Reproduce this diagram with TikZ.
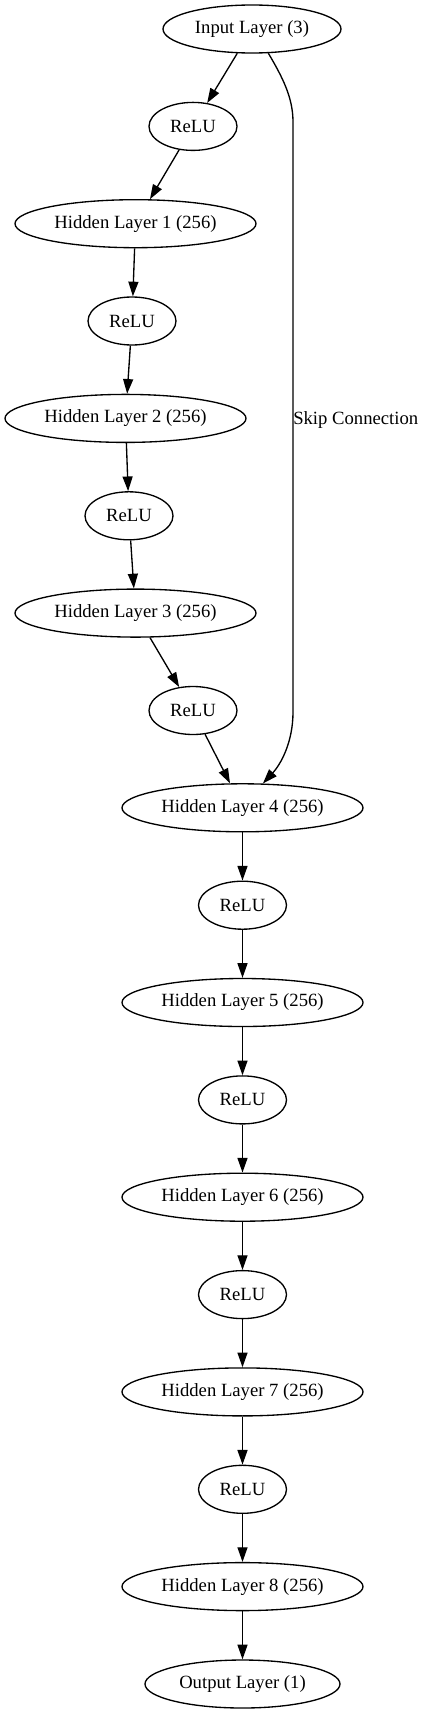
\documentclass[tikz,border=0pt]{standalone}
\usepackage{fontspec}
\setmainfont{Liberation Serif}
\usetikzlibrary{arrows.meta,shapes.geometric}
\begin{document}
\begin{tikzpicture}[x=0.75bp,y=-0.75bp,
  lay/.style={draw,ellipse,line width=1bp,inner sep=0pt,minimum height=36bp,font=\fontsize{14bp}{16bp}\selectfont},
  inl/.style={lay,minimum width=133.5bp},
  relu/.style={lay,minimum width=66bp},
  hid/.style={lay,minimum width=180.75bp},
  outl/.style={lay,minimum width=146.25bp},
  conn/.style={line width=1bp,-{Triangle[length=11bp,width=7.5bp]}}]
\useasboundingbox (0,0) rectangle (424,1713);
\node[inl]  (in) at (252,29) {Input Layer (3)};
\node[relu] (r1) at (193,126.4) {ReLU};
\node[hid]  (h1) at (135.5,223.7) {Hidden Layer 1 (256)};
\node[relu] (r2) at (132,321) {ReLU};
\node[hid]  (h2) at (125.5,418.4) {Hidden Layer 2 (256)};
\node[relu] (r3) at (129,515.8) {ReLU};
\node[hid]  (h3) at (135.5,613.1) {Hidden Layer 3 (256)};
\node[relu] (r4) at (193,710.5) {ReLU};
\node[hid]  (h4) at (242.5,807.8) {Hidden Layer 4 (256)};
\node[relu] (r5) at (242.5,905.2) {ReLU};
\node[hid]  (h5) at (242.5,1002.5) {Hidden Layer 5 (256)};
\node[relu] (r6) at (242.5,1099.9) {ReLU};
\node[hid]  (h6) at (242.5,1197.2) {Hidden Layer 6 (256)};
\node[relu] (r7) at (242.5,1294.6) {ReLU};
\node[hid]  (h7) at (242.5,1391.9) {Hidden Layer 7 (256)};
\node[relu] (r8) at (242.5,1489.3) {ReLU};
\node[hid]  (h8) at (242.5,1586.6) {Hidden Layer 8 (256)};
\node[outl] (out) at (242.5,1684) {Output Layer (1)};
\draw[conn] (in) -- (r1);
\draw[conn] (r1) -- (h1);
\draw[conn] (h1) -- (r2);
\draw[conn] (r2) -- (h2);
\draw[conn] (h2) -- (r3);
\draw[conn] (r3) -- (h3);
\draw[conn] (h3) -- (r4);
\draw[conn] (r4) -- (h4);
\draw[conn] (h4) -- (r5);
\draw[conn] (r5) -- (h5);
\draw[conn] (h5) -- (r6);
\draw[conn] (r6) -- (h6);
\draw[conn] (h6) -- (r7);
\draw[conn] (r7) -- (h7);
\draw[conn] (h7) -- (r8);
\draw[conn] (r8) -- (h8);
\draw[conn] (h8) -- (out);
\draw[conn] (in.-56) .. controls (283,78) and (293,98) .. (293,122)
  -- (293,712) .. controls (293,742) and (281,764) .. (h4.50);
\node[anchor=west,inner sep=0pt,font=\fontsize{14bp}{16bp}\selectfont] (skl) at (293,420) {Skip Connection};
\end{tikzpicture}
\end{document}
